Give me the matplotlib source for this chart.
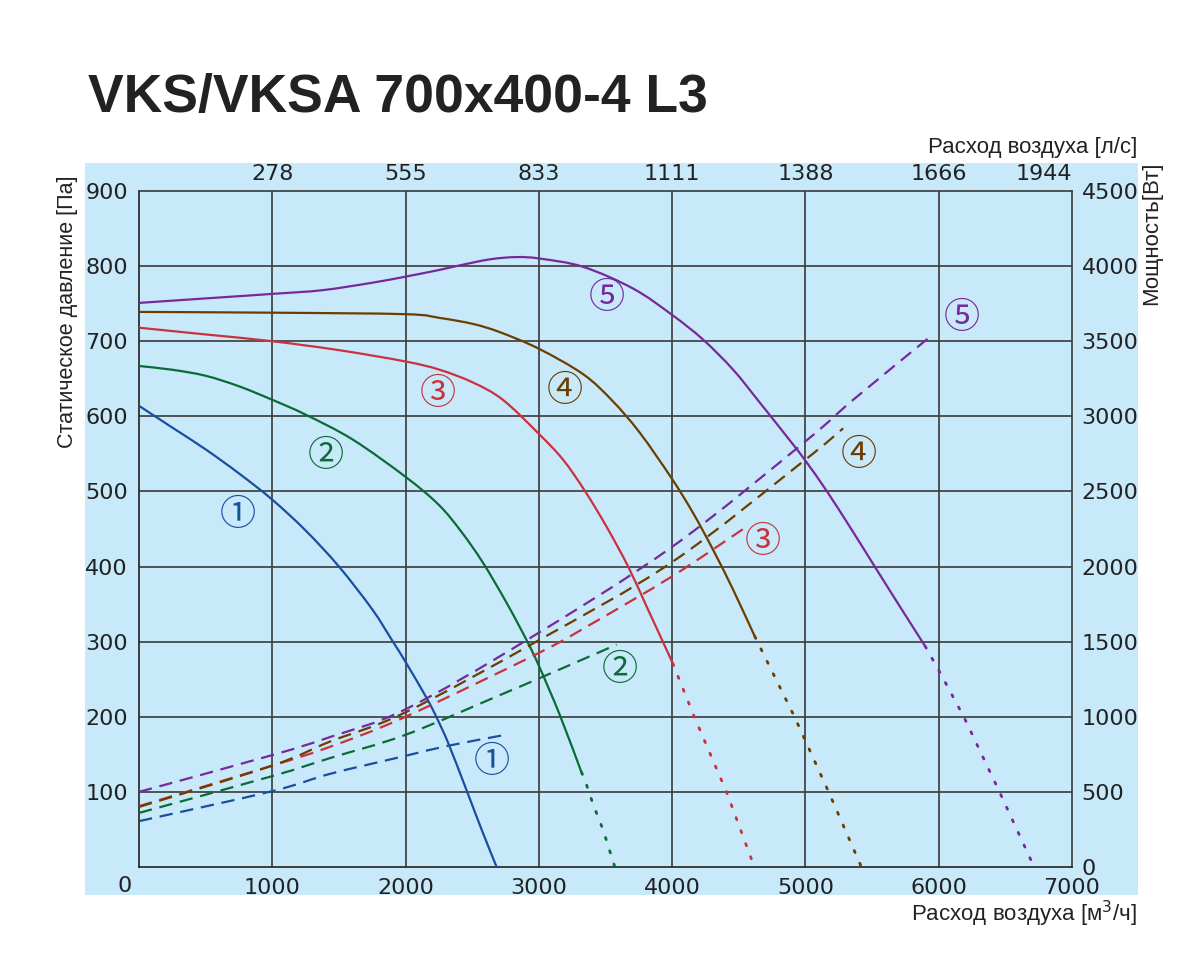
import matplotlib
matplotlib.use("Agg")
import matplotlib.pyplot as plt
import numpy as np
from matplotlib.patches import Rectangle, PathPatch
from matplotlib.path import Path

plt.rcParams['font.family'] = ['Liberation Sans', 'DejaVu Sans']

# --- data ---
# pressure curves [m3/h, Pa]
p1_x = [0, 250, 500, 750, 1000, 1250, 1500, 1750, 1905, 2000, 2158, 2233, 2320, 2458, 2570, 2683]
p1_y = [614, 585, 556, 524, 489, 448, 400, 343, 300, 273, 225, 199, 165, 102, 50, 0]
p2_x = [0, 250, 500, 750, 1000, 1253, 1604, 2003, 2250, 2420, 2581, 2757, 2908, 3000, 3158, 3320]
p2_y = [667, 662, 654, 640, 622, 602, 569, 519, 482, 446, 405, 352, 302, 268, 202, 126]
p3_x = [0, 501, 1000, 1504, 2000, 2256, 2506, 2730, 2998, 3183, 3348, 3508, 3670, 3808, 3920, 4005]
p3_y = [718, 709, 700, 688, 673, 662, 645, 622, 577, 542, 500, 453, 400, 347, 304, 271]
p4_x = [0, 1000, 2000, 2256, 2506, 2708, 3000, 3333, 3550, 3758, 3998, 4158, 4308, 4458, 4620]
p4_y = [739, 738, 736, 731, 723, 712, 690, 656, 621, 578, 517, 471, 422, 369, 307]
p5_x = [0, 501, 1000, 1378, 1754, 2000, 2256, 2381, 2632, 2832, 3008, 3333, 3708, 4000, 4233,
        4458, 4650, 4883, 5008, 5158, 5333, 5520, 5708, 5898]
p5_y = [751, 757, 763, 768, 778, 786, 795, 800, 809, 812, 810, 799, 770, 735, 702,
        662, 620, 568, 539, 501, 453, 400, 347, 294]

# dotted extensions
e2_x = [3320, 3345, 3408, 3483, 3570]
e2_y = [126, 116, 83, 49, 0]
e3_x = [4005, 4166, 4408, 4617]
e3_y = [271, 200, 100, 0]
e4_x = [4620, 4918, 5174, 5420]
e4_y = [307, 200, 100, 0]
e5_x = [5898, 5997, 6188, 6456, 6716]
e5_y = [294, 263, 200, 100, 0]

# power curves [m3/h, W]
w1_x = [0, 1000, 1433, 2000, 2308, 2720]
w1_y = [305, 505, 620, 740, 805, 875]
w2_x = [0, 1000, 1433, 2000, 2683, 3000, 3583]
w2_y = [360, 605, 725, 880, 1135, 1255, 1480]
w3_x = [0, 1000, 1433, 2000, 3000, 3408, 4000, 4558]
w3_y = [405, 675, 800, 1000, 1425, 1625, 1935, 2265]
w4_x = [0, 1000, 1433, 2000, 3000, 4000, 4983, 5283]
w4_y = [400, 675, 835, 1030, 1510, 2030, 2700, 2920]
w5_x = [0, 1000, 1433, 2000, 2908, 3998, 4995, 5358, 5950]
w5_y = [500, 745, 865, 1050, 1510, 2130, 2830, 3110, 3540]

x_ticks = [1000, 2000, 3000, 4000, 5000, 6000, 7000]
top_labels = ['278', '555', '833', '1111', '1388', '1666', '1944']
y_ticks = [100, 200, 300, 400, 500, 600, 700, 800, 900]
w_ticks = [0, 500, 1000, 1500, 2000, 2500, 3000, 3500, 4000, 4500]

colors = ['#1a4f9f', '#0b6b36', '#c8323f', '#6b3e00', '#76299a']
labels = ['①', '②', '③', '④', '⑤']
# label positions (pressure curve label, power curve label)
lab_pos = [((743, 468), (2645, 140)),
           ((1400, 547), (3608, 262)),
           ((2242, 630), (4683, 433)),
           ((3195, 634), (5403, 548)),
           ((3508, 757), (6174, 731))]

bg = '#c8e9f9'
grid_c = '#3a3a3a'
txt_c = '#222222'
tick_font = dict(fontsize=16, color=txt_c, family='DejaVu Sans')


def smooth_path(xs, ys):
    # Catmull-Rom through the read points, drawn as cubic Bezier segments
    pts = np.column_stack([xs, ys]).astype(float)
    ext = np.vstack([pts[0], pts, pts[-1]])
    verts = [pts[0]]
    codes = [Path.MOVETO]
    for i in range(1, len(ext) - 2):
        p0, p1, p2, p3 = ext[i - 1], ext[i], ext[i + 1], ext[i + 2]
        verts += [p1 + (p2 - p0) / 6, p2 - (p3 - p1) / 6, p2]
        codes += [Path.CURVE4] * 3
    return Path(verts, codes)


fig = plt.figure(figsize=(12, 9.71), dpi=100)
fig.patches.append(Rectangle((85 / 1200, 1 - 895 / 971), (1138 - 85) / 1200, (895 - 163) / 971,
                             transform=fig.transFigure, facecolor=bg, edgecolor='none', zorder=-10))

ax = fig.add_axes([139 / 1200, 1 - 867 / 971, (1072 - 139) / 1200, (867 - 191) / 971])
ax.set_facecolor(bg)
ax.set_xlim(0, 7000)
ax.set_ylim(0, 900)
for s in ax.spines.values():
    s.set_color(grid_c)
    s.set_linewidth(1.2)
ax.spines['left'].set_color(txt_c)
ax.spines['bottom'].set_color(txt_c)

for xv in x_ticks[:-1]:
    ax.axvline(xv, color=grid_c, lw=1.2, zorder=1)
for yv in y_ticks[:-1]:
    ax.axhline(yv, color=grid_c, lw=1.2, zorder=1)

ax.set_xticks(x_ticks)
ax.set_xticklabels([str(v) for v in x_ticks], **tick_font)
ax.set_yticks(y_ticks)
ax.set_yticklabels([str(v) for v in y_ticks], **tick_font)
ax.tick_params(axis='both', length=0)
ax.tick_params(axis='x', pad=8)
ax.tick_params(axis='y', pad=8)
ax.text(-110, -25, '0', ha='center', va='center', **tick_font)

# top axis (l/s)
axt = ax.twiny()
axt.set_xlim(0, 7000)
axt.set_xticks(x_ticks)
axt.set_xticklabels(top_labels, **tick_font)
axt.tick_params(axis='x', length=0, pad=5)
axt.get_xticklabels()[-1].set_horizontalalignment('right')
for s in axt.spines.values():
    s.set_visible(False)

# right axis (W)
axr = ax.twinx()
axr.set_ylim(0, 4500)
axr.set_yticks(w_ticks)
axr.set_yticklabels([str(v) for v in w_ticks], **tick_font)
axr.tick_params(axis='y', length=0, pad=7)
for s in axr.spines.values():
    s.set_visible(False)

p_x = [p1_x, p2_x, p3_x, p4_x, p5_x]
p_y = [p1_y, p2_y, p3_y, p4_y, p5_y]
e_x = [None, e2_x, e3_x, e4_x, e5_x]
e_y = [None, e2_y, e3_y, e4_y, e5_y]
w_x = [w1_x, w2_x, w3_x, w4_x, w5_x]
w_y = [w1_y, w2_y, w3_y, w4_y, w5_y]

for i in range(5):
    c = colors[i]
    ax.add_patch(PathPatch(smooth_path(p_x[i], p_y[i]), fill=False, edgecolor=c,
                           lw=1.6, capstyle='butt', zorder=3))
    if e_x[i] is not None:
        ax.plot(e_x[i], e_y[i], color=c, lw=2.0, ls=(0, (0.8, 4.2)),
                dash_capstyle='round', zorder=3)
    axr.add_patch(PathPatch(smooth_path(w_x[i], w_y[i]), fill=False, edgecolor=c,
                            lw=1.6, ls=(0, (6, 3.5)), zorder=3))
    (x1, y1), (x2, y2) = lab_pos[i]
    for xx, yy in [(x1, y1), (x2, y2)]:
        ax.text(xx, yy, labels[i], color=c, fontsize=26, ha='center', va='center',
                family=['Noto Sans CJK JP', 'DejaVu Sans'], zorder=4)

# titles and axis labels
fig.text(88 / 1200, 1 - 98 / 971, 'VKS/VKSA 700x400-4 L3', fontsize=38.5, fontweight='bold',
         color=txt_c, ha='left', va='center')
fig.text(1137 / 1200, 1 - 148 / 971, 'Расход воздуха [л/с]', fontsize=16, color=txt_c,
         ha='right', va='center')
fig.text(1137 / 1200, 1 - 914 / 971, 'Расход воздуха [м$^3$/ч]', fontsize=16, color=txt_c,
         ha='right', va='center')
fig.text(68 / 1200, 1 - 312 / 971, 'Статическое давление [Па]', fontsize=15.5, color=txt_c,
         ha='center', va='center', rotation=90)
fig.text(1152 / 1200, 1 - 233 / 971, 'Мощность[Вт]', fontsize=16, color=txt_c,
         ha='center', va='center', rotation=90)

fig.savefig('out.png', dpi=100)
